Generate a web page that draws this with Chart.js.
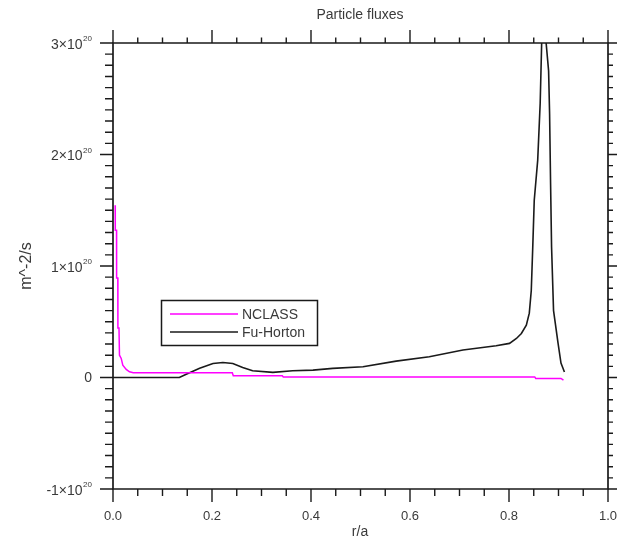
<!DOCTYPE html>
<html>
<head>
<meta charset="utf-8">
<script src="https://cdn.jsdelivr.net/npm/chart.js@4/dist/chart.umd.min.js"></script>
<style>
  html, body { margin: 0; padding: 0; background: #ffffff; }
  #wrap { width: 617px; height: 541px; }
</style>
</head>
<body>
<div id="wrap"><canvas id="flux" width="617" height="541"></canvas></div>
<script>
// Normalised radius and particle flux (units of 1e20 m^-2/s)
const FLUX_UNIT = 1e20;

const nclassR = [0.0044, 0.0046, 0.0071, 0.0073, 0.0097, 0.0099, 0.0121, 0.0131, 0.0166, 0.0198,
                 0.0267, 0.0333, 0.041, 0.10, 0.18, 0.241, 0.243, 0.30, 0.342, 0.344,
                 0.50, 0.70, 0.852, 0.854, 0.905, 0.910];
const nclassFlux = [1.545, 1.32, 1.32, 0.893, 0.893, 0.443, 0.443, 0.20, 0.171, 0.111,
                    0.073, 0.051, 0.042, 0.042, 0.042, 0.042, 0.015, 0.015, 0.015, 0.005,
                    0.005, 0.005, 0.005, -0.008, -0.008, -0.023];

const fuHortonR = [0.0, 0.134, 0.148, 0.175, 0.202, 0.222, 0.242, 0.262, 0.282, 0.323,
                   0.363, 0.404, 0.444, 0.505, 0.572, 0.639, 0.707, 0.774, 0.801, 0.815,
                   0.825, 0.835, 0.841, 0.845, 0.848, 0.851, 0.858, 0.863, 0.866, 0.870,
                   0.875, 0.880, 0.882, 0.884, 0.886, 0.890, 0.899, 0.905, 0.912];
const fuHortonFlux = [0.0, 0.0, 0.03, 0.082, 0.126, 0.135, 0.126, 0.09, 0.06, 0.046,
                      0.06, 0.066, 0.082, 0.096, 0.147, 0.186, 0.246, 0.284, 0.306, 0.35,
                      0.395, 0.47, 0.577, 0.78, 1.17, 1.59, 1.95, 2.46, 3.0, 3.15,
                      3.0, 2.75, 2.37, 1.74, 1.17, 0.60, 0.31, 0.13, 0.05];

const seriesNames = ['NCLASS', 'Fu-Horton'];
const xMajorTicks = [0.0, 0.2, 0.4, 0.6, 0.8, 1.0];
const xTickLabels = ['0.0', '0.2', '0.4', '0.6', '0.8', '1.0'];
const yMajorTicks = [-1, 0, 1, 2, 3];
const yTickMantissa = ['-1', '0', '1', '2', '3'];

const toPoints = (rs, vs) => rs.map((r, i) => ({ x: r, y: vs[i] * FLUX_UNIT }));

const FONT = '"Liberation Sans", Arial, Helvetica, sans-serif';
const INK = '#1a1a1a';
const TEXT = '#3a3a3a';

// Boxed axes with outward ticks, tick labels, titles and legend
const framePlugin = {
  id: 'frame',
  afterDatasetsDraw(chart) {
    const { ctx, chartArea: a, scales } = chart;
    const xs = scales.x, ys = scales.y;
    ctx.save();
    ctx.strokeStyle = INK;
    ctx.lineCap = 'butt';

    // frame
    ctx.lineWidth = 1.7;
    ctx.beginPath();
    ctx.moveTo(a.left, a.top); ctx.lineTo(a.right, a.top);
    ctx.lineTo(a.right, a.bottom); ctx.lineTo(a.left, a.bottom);
    ctx.closePath();
    ctx.stroke();

    const MAJ = 13;
    ctx.lineWidth = 1.4;
    ctx.beginPath();
    // x ticks: minor every 0.05
    for (let k = 0; k <= 20; k++) {
      const px = xs.getPixelForValue(k * 0.05);
      const major = k % 4 === 0;
      ctx.moveTo(px, a.bottom); ctx.lineTo(px, a.bottom + (major ? MAJ : 7));
      ctx.moveTo(px, a.top); ctx.lineTo(px, a.top - (major ? MAJ : 5.5));
    }
    // y ticks: minor every 0.1e20
    for (let k = -10; k <= 30; k++) {
      const py = ys.getPixelForValue(k * 0.1 * FLUX_UNIT);
      const major = k % 10 === 0;
      ctx.moveTo(a.left, py); ctx.lineTo(a.left - (major ? MAJ : 8), py);
      ctx.moveTo(a.right, py); ctx.lineTo(a.right + (major ? MAJ : 5), py);
    }
    ctx.stroke();

    // x tick labels
    ctx.fillStyle = TEXT;
    ctx.font = '13px ' + FONT;
    ctx.textAlign = 'center';
    ctx.textBaseline = 'middle';
    xMajorTicks.forEach((v, i) => {
      ctx.fillText(xTickLabels[i], xs.getPixelForValue(v), 516);
    });

    // y tick labels, "m×10" with a raised exponent
    const rightEdge = 92;
    yMajorTicks.forEach((v, i) => {
      const py = ys.getPixelForValue(v * FLUX_UNIT);
      ctx.textBaseline = 'middle';
      if (v === 0) {
        ctx.font = '14px ' + FONT;
        ctx.textAlign = 'right';
        ctx.fillText('0', rightEdge, py + 1);
        return;
      }
      ctx.font = '8px ' + FONT;
      ctx.textAlign = 'right';
      const supW = ctx.measureText('20').width;
      ctx.fillText('20', rightEdge, py - 4);
      ctx.font = '14px ' + FONT;
      ctx.fillText(yTickMantissa[i] + '\u00d710', rightEdge - supW - 0.5, py + 2);
    });

    // titles
    ctx.font = '14px ' + FONT;
    ctx.textAlign = 'center';
    ctx.textBaseline = 'middle';
    ctx.fillText('Particle fluxes', 360, 15);
    ctx.fillText('r/a', 360, 532);
    ctx.save();
    ctx.translate(27, 266);
    ctx.rotate(-Math.PI / 2);
    ctx.font = '16px ' + FONT;
    ctx.fillText('m^-2/s', 0, 0);
    ctx.restore();

    // legend
    ctx.strokeStyle = INK;
    ctx.lineWidth = 1.5;
    ctx.strokeRect(161.5, 300.5, 156, 45);
    chart.data.datasets.forEach((ds, i) => {
      const ly = 314 + i * 18;
      ctx.strokeStyle = ds.borderColor;
      ctx.lineWidth = 1.5;
      ctx.beginPath();
      ctx.moveTo(170, ly); ctx.lineTo(238, ly);
      ctx.stroke();
      ctx.fillStyle = TEXT;
      ctx.font = '14px ' + FONT;
      ctx.textAlign = 'left';
      ctx.textBaseline = 'middle';
      ctx.fillText(ds.label, 242, ly + 1);
    });
    ctx.restore();
  }
};

new Chart(document.getElementById('flux'), {
  type: 'line',
  data: {
    datasets: [
      {
        label: seriesNames[0],
        data: toPoints(nclassR, nclassFlux),
        borderColor: '#ff00ff',
        borderWidth: 1.5,
        pointRadius: 0,
        tension: 0,
        fill: false
      },
      {
        label: seriesNames[1],
        data: toPoints(fuHortonR, fuHortonFlux),
        borderColor: '#1a1a1a',
        borderWidth: 1.6,
        pointRadius: 0,
        tension: 0,
        fill: false
      }
    ]
  },
  options: {
    responsive: false,
    animation: false,
    layout: { padding: { left: 113, top: 43, right: 9, bottom: 52 } },
    scales: {
      x: { type: 'linear', min: 0, max: 1, display: false },
      y: { type: 'linear', min: -1 * FLUX_UNIT, max: 3 * FLUX_UNIT, display: false }
    },
    plugins: {
      legend: { display: false },
      title: { display: false },
      tooltip: { enabled: false }
    }
  },
  plugins: [framePlugin]
});
</script>
</body>
</html>
